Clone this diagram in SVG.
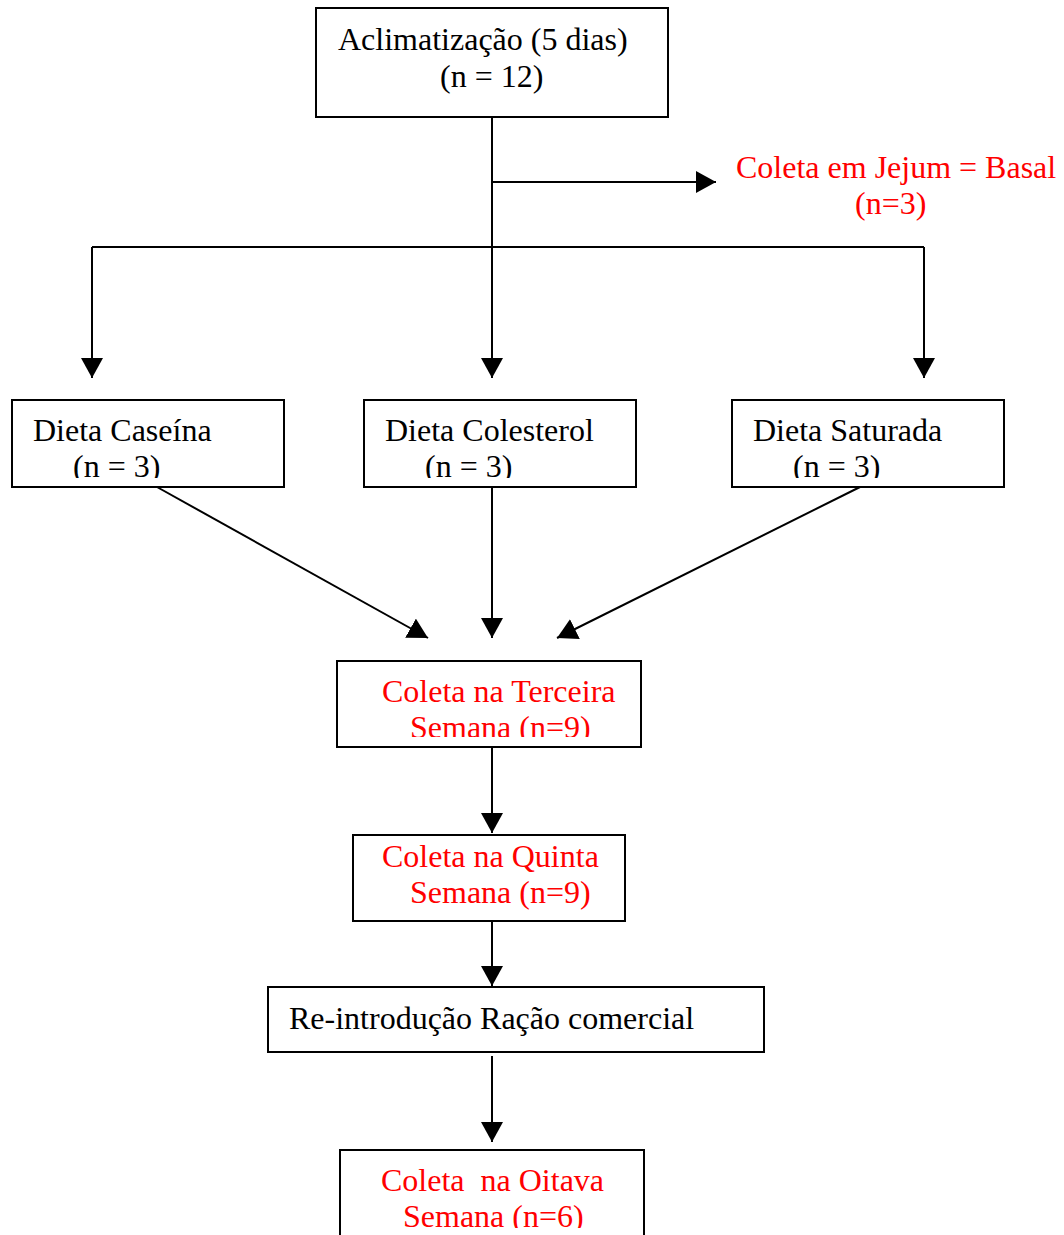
<svg xmlns="http://www.w3.org/2000/svg" width="1064" height="1235" viewBox="0 0 1064 1235">
<style>
.box{fill:#fff;stroke:#000;stroke-width:2}
.t{font-family:"Liberation Serif","Times New Roman",serif;font-size:32px;fill:#000}
.r{fill:#ff0000}
.c{stroke:#000;stroke-width:2;fill:none}
</style>
<defs>
<marker id="ah" viewBox="0 0 20 22" refX="20" refY="11" markerWidth="20" markerHeight="22" markerUnits="userSpaceOnUse" orient="auto">
<path d="M0,0 L20,11 L0,22 z" fill="#000"/>
</marker>
<clipPath id="cl1"><rect x="12" y="400" width="272" height="78"/></clipPath>
<clipPath id="cl2"><rect x="364" y="400" width="272" height="78"/></clipPath>
<clipPath id="cl3"><rect x="732" y="400" width="272" height="78"/></clipPath>
<clipPath id="cl4"><rect x="337" y="661" width="304" height="76"/></clipPath>
<clipPath id="cl5"><rect x="340" y="1150" width="304" height="78"/></clipPath>
</defs>
<g id="connectors">
<path class="c" d="M492,117 V378" marker-end="url(#ah)"/>
<path class="c" d="M492,182 H716" marker-end="url(#ah)"/>
<path class="c" d="M92,247 H924"/>
<path class="c" d="M92,247 V378" marker-end="url(#ah)"/>
<path class="c" d="M924,247 V378" marker-end="url(#ah)"/>
<path class="c" d="M157,487 L428,638" marker-end="url(#ah)"/>
<path class="c" d="M492,487 V638" marker-end="url(#ah)"/>
<path class="c" d="M860,487 L557,638" marker-end="url(#ah)"/>
<path class="c" d="M492,747 V833" marker-end="url(#ah)"/>
<path class="c" d="M492,921 V986" marker-end="url(#ah)"/>
<path class="c" d="M492,1056 V1142" marker-end="url(#ah)"/>
</g>
<g id="aclimatizacao">
<rect class="box" x="316" y="8" width="352" height="109"/>
<text class="t" x="338" y="50">Aclimatização (5 dias)</text>
<text class="t" x="440" y="87">(n = 12)</text>
</g>
<g id="basal">
<text class="t r" x="736" y="178">Coleta em Jejum = Basal</text>
<text class="t r" x="855" y="214">(n=3)</text>
</g>
<g id="caseina">
<rect class="box" x="12" y="400" width="272" height="87"/>
<g clip-path="url(#cl1)">
<text class="t" x="33" y="441">Dieta Caseína</text>
<text class="t" x="73" y="477">(n = 3)</text>
</g>
</g>
<g id="colesterol">
<rect class="box" x="364" y="400" width="272" height="87"/>
<g clip-path="url(#cl2)">
<text class="t" x="385" y="441">Dieta Colesterol</text>
<text class="t" x="425" y="477">(n = 3)</text>
</g>
</g>
<g id="saturada">
<rect class="box" x="732" y="400" width="272" height="87"/>
<g clip-path="url(#cl3)">
<text class="t" x="753" y="441">Dieta Saturada</text>
<text class="t" x="793" y="477">(n = 3)</text>
</g>
</g>
<g id="terceira">
<rect class="box" x="337" y="661" width="304" height="86"/>
<g clip-path="url(#cl4)">
<text class="t r" x="382" y="702">Coleta na Terceira</text>
<text class="t r" x="410" y="738">Semana (n=9)</text>
</g>
</g>
<g id="quinta">
<rect class="box" x="353" y="835" width="272" height="86"/>
<text class="t r" x="382" y="867">Coleta na Quinta</text>
<text class="t r" x="410" y="903">Semana (n=9)</text>
</g>
<g id="reintroducao">
<rect class="box" x="268" y="987" width="496" height="65"/>
<text class="t" x="289" y="1029">Re-introdução Ração comercial</text>
</g>
<g id="oitava">
<rect class="box" x="340" y="1150" width="304" height="100"/>
<g clip-path="url(#cl5)">
<text class="t r" x="381" y="1191" xml:space="preserve">Coleta  na Oitava</text>
<text class="t r" x="403" y="1227">Semana (n=6)</text>
</g>
</g>
</svg>
